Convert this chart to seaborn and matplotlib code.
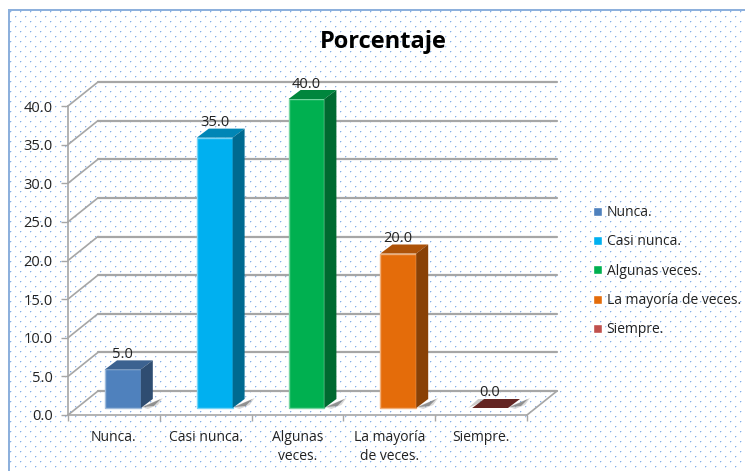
import numpy as np
import pandas as pd
import seaborn as sns
import matplotlib.pyplot as plt
from matplotlib.patches import Polygon
from matplotlib.transforms import Affine2D
from matplotlib.colors import to_rgb

categorias = ['Nunca.', 'Casi nunca.', 'Algunas veces.', 'La mayoría de veces.', 'Siempre.']
etiquetas_x = ['Nunca.', 'Casi nunca.', 'Algunas\nveces.', 'La mayoría\nde veces.', 'Siempre.']
porcentaje = [5.0, 35.0, 40.0, 20.0, 0.0]
colores = ['#4F81BD', '#00B0F0', '#00B050', '#E46C0A', '#C0504D']
ticks_y = [0, 5, 10, 15, 20, 25, 30, 35, 40]

W, H = 745, 471
sns.set_theme(style='white')
plt.rcParams['font.family'] = ['Open Sans', 'DejaVu Sans']

fig = plt.figure(figsize=(W / 100, H / 100), dpi=100, facecolor='white')

# fondo punteado
fondo = np.ones((H, W, 3))
for fila, y in enumerate(range(11, H - 1, 5)):
    for x in range(10 + 5 * (fila % 2), W - 1, 10):
        fondo[y, x] = (0.52, 0.69, 0.92)
        fondo[y, x + 1] = (0.84, 0.90, 0.98)
        fondo[y + 1, x] = (0.84, 0.90, 0.98)
fondo[:9, :] = 1
fondo[:, :8] = 1
fondo[9:11, 8:] = to_rgb('#8DB0DC')
fondo[9:, 8:10] = to_rgb('#8DB0DC')
fig.figimage(fondo, origin='upper', zorder=-1)

ax = fig.add_axes([68 / W, 1 - 415 / H, (527 - 68) / W, (415 - 106) / H])
ax.patch.set_alpha(0)

df = pd.DataFrame({'cat': categorias, 'pct': porcentaje})
sns.barplot(data=df, x='cat', y='pct', hue='cat', palette=colores, dodge=False,
            width=0.39, legend=True, ax=ax, zorder=5, saturation=1)
ax.set_xlim(-0.5, 4.5)
ax.set_ylim(0, 40)


def desplaza(dx, dy):
    return ax.transData + Affine2D().translate(dx, dy)


# paredes 3D
gris = '#A6A6A6'
fondo_t = desplaza(30, 24)
for v in ticks_y:
    ax.plot([-0.5, 4.5], [v, v], color=gris, lw=1.6, transform=fondo_t, clip_on=False, zorder=1)
    x0, y0 = ax.transData.transform((-0.5, v))
    ax.plot([x0, x0 + 30], [y0, y0 + 24], color=gris, lw=1.2, transform=None, clip_on=False, zorder=1)
x0, y0 = ax.transData.transform((4.5, 0))
ax.plot([x0, x0 + 30], [y0, y0 + 24], color=gris, lw=1.2, transform=None, clip_on=False, zorder=1)

for s in ['top', 'right']:
    ax.spines[s].set_visible(False)
for s in ['left', 'bottom']:
    ax.spines[s].set_color(gris)
    ax.spines[s].set_linewidth(1.2)

# caras de las barras
prof = (12, 9)
barras = [p for p in ax.patches]
for p, color, v in zip(barras, colores, porcentaje):
    p.set_transform(desplaza(9, 7))
    p.set_clip_on(False)
    r = np.array(to_rgb(color))
    claro = tuple(r + (1 - r) * 0.45)
    p.set_edgecolor(claro)
    p.set_linewidth(1.0 if v > 0 else 0)
    a, b = p.get_x(), p.get_x() + p.get_width()
    (xa, ya), (xb, yt) = desplaza(9, 7).transform([(a, 0), (b, v)])
    if v == 0:
        r = np.array([0.39, 0.145, 0.137]) / 0.76
    # sombra
    ax.add_patch(Polygon([(xb, ya + 1), (xb + 22, ya + 10), (xb + 17, ya + 3), (xb + 7, ya - 1)],
                         transform=None, fc='#A0A0A0', ec='none', alpha=0.4, zorder=3, clip_on=False))
    ax.add_patch(Polygon([(xb + 2, ya + 1), (xb + 20, ya + 9), (xb + 13, ya + 2)],
                         transform=None, fc='#606060', ec='none', alpha=0.6, zorder=3, clip_on=False))
    if v == 0:
        ax.add_patch(Polygon([(xa - 4, ya), (xa + prof[0] - 6, ya + prof[1]), (xa + prof[0] + 4, ya + prof[1])],
                             transform=None, fc='#7F7F7F', ec='none', alpha=0.4, zorder=3, clip_on=False))
    ax.add_patch(Polygon([(xa, yt), (xb, yt), (xb + prof[0], yt + prof[1]), (xa + prof[0], yt + prof[1])],
                         transform=None, fc=tuple(r * 0.76), ec='none', zorder=6, clip_on=False))
    if v > 0:
        ax.add_patch(Polygon([(xb, ya), (xb + prof[0], ya + prof[1]), (xb + prof[0], yt + prof[1]), (xb, yt)],
                             transform=None, fc=tuple(r * 0.6), ec='none', zorder=6, clip_on=False))
    ax.text((a + b) / 2, v, f'{v:.1f}', ha='center', va='center', fontsize=10.5, color='#222222',
            transform=desplaza(9, 7 + 15), zorder=8)

# ejes
ax.set_xlabel('')
ax.set_ylabel('')
ax.set_yticks(ticks_y)
ax.set_yticklabels([f'{v:.1f}' for v in ticks_y], fontsize=10.5, color='#222222')
ax.set_xticks(range(5))
ax.set_xticklabels(etiquetas_x, fontsize=10, color='#222222', linespacing=1.35)
ax.set_xticks(np.arange(-0.5, 5), minor=True)
ax.tick_params(axis='x', which='major', length=0, pad=11)
ax.tick_params(axis='x', which='minor', length=4, color=gris, width=1, direction='out', bottom=True)
ax.tick_params(axis='y', length=5, color=gris, width=1, pad=6, left=True)

plt.setp(ax.get_xticklabels(), va='top')

ley = ax.legend(loc='upper left', bbox_to_anchor=(593 / W, 1 - 205 / H), bbox_transform=fig.transFigure,
                frameon=False, fontsize=10, handlelength=0.62, handleheight=0.62, handletextpad=0.36,
                labelspacing=1.03, borderpad=0, borderaxespad=0, labelcolor='#222222')
ley.set_zorder(10)

fig.text(383 / W, 1 - 42 / H, 'Porcentaje', ha='center', va='center', fontsize=17, fontweight='bold', color='black')

fig.savefig('out.png', dpi=100)
